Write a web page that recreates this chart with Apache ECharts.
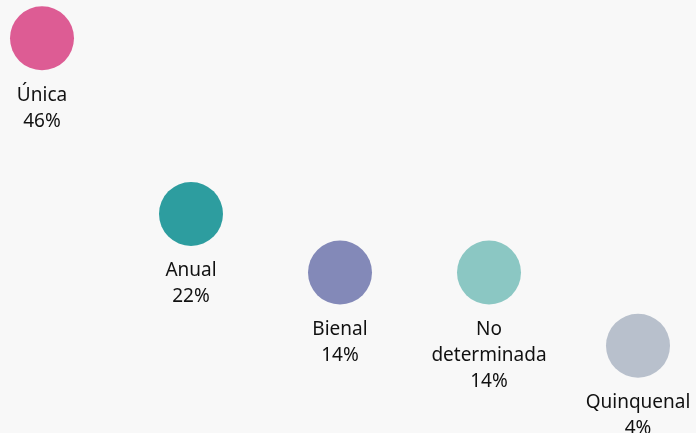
<!DOCTYPE html>
<html>
<head>
<meta charset="utf-8">
<script src="https://cdn.jsdelivr.net/npm/echarts@6/dist/echarts.min.js"></script>
<style>
  html, body { margin: 0; padding: 0; background: #f8f8f8; }
  #chart { width: 696px; height: 433px; }
</style>
</head>
<body>
<div id="chart"></div>
<script>
// periodicidad
var categories = ['Única', 'Anual', 'Bienal', 'No determinada', 'Quinquenal'];
var values = [46, 22, 14, 14, 4];
var colors = ['#dd5c94', '#2d9d9f', '#8389b8', '#8bc7c3', '#b8c0cc'];

var seriesData = values.map(function (v, i) {
    return {
        value: v,
        itemStyle: { color: colors[i] }
    };
});

var myChart = echarts.init(document.getElementById('chart'));
var option = {
    backgroundColor: '#f8f8f8',
    grid: {
        left: 42,
        right: 58,
        top: 9,
        bottom: 58
    },
    xAxis: {
        type: 'category',
        data: categories,
        boundaryGap: false,
        show: false
    },
    yAxis: {
        type: 'value',
        min: 0,
        max: 50,
        show: false
    },
    series: [
        {
            type: 'scatter',
            symbol: 'circle',
            symbolSize: 64,
            data: seriesData,
            itemStyle: { opacity: 1 },
            label: {
                show: true,
                position: 'bottom',
                distance: 12,
                formatter: function (p) {
                    return p.name.replace(' ', '\n') + '\n' + p.value + '%';
                },
                fontFamily: 'Noto Sans',
                fontSize: 19,
                lineHeight: 26,
                color: '#111',
                align: 'center'
            },
            emphasis: { disabled: true }
        }
    ]
};
myChart.setOption(option);
</script>
</body>
</html>
